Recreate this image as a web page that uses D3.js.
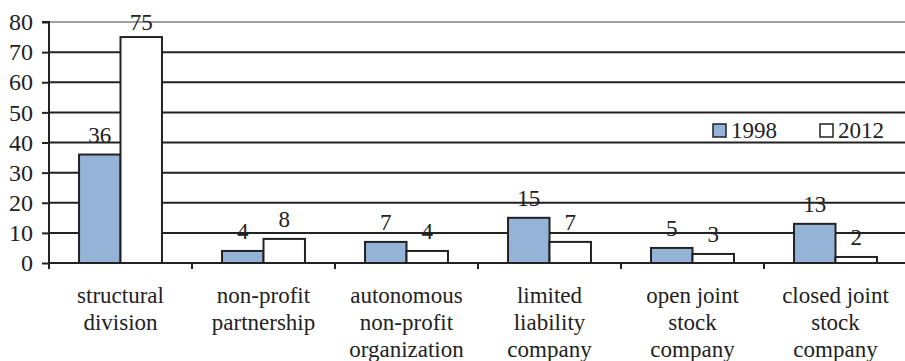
<!DOCTYPE html>
<html><head><meta charset="utf-8">
<script src="https://cdn.jsdelivr.net/npm/d3@7"></script>
<style>body{margin:0;background:#fff}svg{display:block}</style>
</head><body><svg id="c" width="905" height="361"></svg>
<script>
const categories = [["structural","division"],["non-profit","partnership"],["autonomous","non-profit","organization"],["limited","liability","company"],["open joint","stock","company"],["closed joint","stock","company"]];
const seriesNames = ["1998","2012"];
const values1998 = [36,4,7,15,5,13];
const values2012 = [75,8,4,7,3,2];
const yTicks = [0,10,20,30,40,50,60,70,80];
const colors = ["#95b3d7","#ffffff"];

const FONT = "Liberation Serif";
const svg = d3.select("#c");
const pL = 49, pR = 907, pT = 22, pB = 263;
const x = d3.scaleBand().domain(d3.range(categories.length)).range([pL, pR]).padding(0);
const bw = x.bandwidth();
const x1 = d3.scaleBand().domain(seriesNames).range([bw*0.21, bw*0.79]).padding(0);
const y = d3.scaleLinear().domain([0,80]).range([pB, pT]);

function txt(sel, size){ return sel.attr("font-family", FONT).style("font-family", FONT).attr("font-size", size).attr("fill","#222"); }

// gridlines
svg.append("g").selectAll("line").data(yTicks.filter(d=>d>0)).join("line")
  .attr("x1", pL).attr("x2", 905).attr("y1", d=>y(d)).attr("y2", d=>y(d))
  .attr("stroke", d=> d===80 ? "#a0a0a0" : "#222").attr("stroke-width", 2);

// y axis
const ya = svg.append("g").attr("transform", `translate(${pL},0)`)
  .call(d3.axisLeft(y).tickValues(yTicks).tickSize(7).tickPadding(9));
ya.attr("font-family", FONT).attr("font-size", 24);
ya.select(".domain").attr("stroke","#222").attr("stroke-width",2).attr("d", `M-7,${pT}H0V${pB}`);
ya.selectAll(".tick line").attr("stroke","#222").attr("stroke-width",2);
txt(ya.selectAll(".tick text"), 24);

// bars
const data = seriesNames.map((s,i)=>({name:s, vals: i===0?values1998:values2012, color: colors[i]}));
data.forEach(s=>{
  const g = svg.append("g");
  g.selectAll("rect").data(s.vals).join("rect")
    .attr("x", (d,i)=>x(i)+x1(s.name))
    .attr("y", d=>y(d))
    .attr("width", x1.bandwidth())
    .attr("height", d=>y(0)-y(d))
    .attr("fill", s.color).attr("stroke","#222").attr("stroke-width",2);
  txt(g.selectAll("text").data(s.vals).join("text"), 23)
    .attr("x", (d,i)=>x(i)+x1(s.name)+x1.bandwidth()/2)
    .attr("y", d=>Math.max(y(d)-12, 30))
    .attr("text-anchor","middle").text(d=>d);
});

// x axis
const xa = svg.append("g").attr("transform", `translate(0,${pB})`);
xa.append("line").attr("x1",pL).attr("x2",905).attr("stroke","#222").attr("stroke-width",2);
xa.selectAll("line.t").data(d3.range(categories.length+1)).join("line").attr("class","t")
  .attr("x1", i=>pL+i*bw).attr("x2", i=>pL+i*bw).attr("y1",0).attr("y2",6)
  .attr("stroke","#222").attr("stroke-width",2);
categories.forEach((lines,i)=>{
  lines.forEach((l,j)=>{
    txt(xa.append("text"), 23).attr("text-anchor","middle")
      .attr("x", x(i)+bw/2).attr("y", 40+j*27).text(l);
  });
});

// legend
const leg = svg.append("g");
const legX = [713, 820];
seriesNames.forEach((s,i)=>{
  leg.append("rect").attr("x",legX[i]).attr("y",124).attr("width",13).attr("height",13)
    .attr("fill",colors[i]).attr("stroke","#222").attr("stroke-width",1.5);
  txt(leg.append("text"), 23).attr("x",legX[i]+18).attr("y",138).text(s);
});
</script></body></html>
